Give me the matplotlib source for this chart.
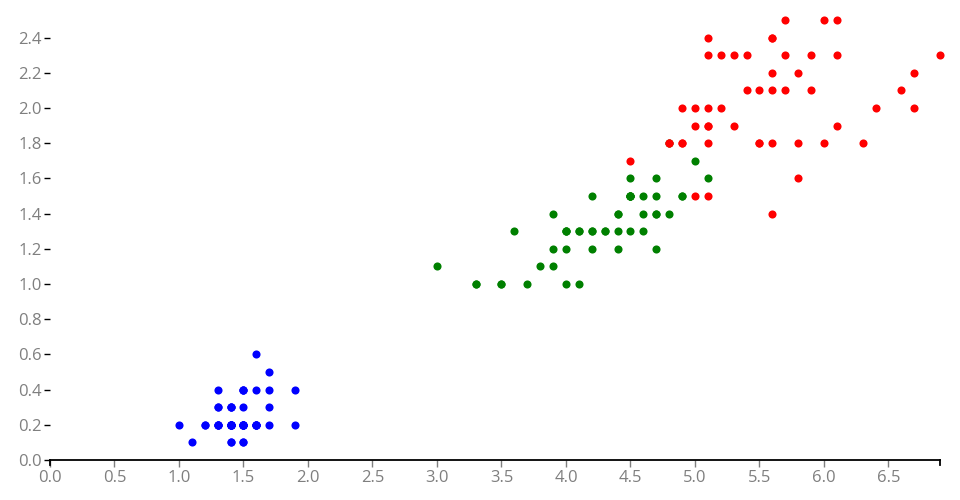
import matplotlib.pyplot as plt
import numpy as np

plt.rcParams["font.family"] = ["Open Sans", "DejaVu Sans"]

# iris petal length / petal width
setosa_len = [1.4, 1.4, 1.3, 1.5, 1.4, 1.7, 1.4, 1.5, 1.4, 1.5, 1.5, 1.6, 1.4, 1.1, 1.2, 1.5, 1.3,
              1.4, 1.7, 1.5, 1.7, 1.5, 1.0, 1.7, 1.9, 1.6, 1.6, 1.5, 1.4, 1.6, 1.6, 1.5, 1.5, 1.4,
              1.5, 1.2, 1.3, 1.4, 1.3, 1.5, 1.3, 1.3, 1.3, 1.6, 1.9, 1.4, 1.6, 1.4, 1.5, 1.4]
setosa_wid = [0.2, 0.2, 0.2, 0.2, 0.2, 0.4, 0.3, 0.2, 0.2, 0.1, 0.2, 0.2, 0.1, 0.1, 0.2, 0.4, 0.4,
              0.3, 0.3, 0.3, 0.2, 0.4, 0.2, 0.5, 0.2, 0.2, 0.4, 0.2, 0.2, 0.2, 0.2, 0.4, 0.1, 0.2,
              0.2, 0.2, 0.2, 0.1, 0.2, 0.2, 0.3, 0.3, 0.2, 0.6, 0.4, 0.3, 0.2, 0.2, 0.2, 0.2]

versicolor_len = [4.7, 4.5, 4.9, 4.0, 4.6, 4.5, 4.7, 3.3, 4.6, 3.9, 3.5, 4.2, 4.0, 4.7, 3.6, 4.4, 4.5,
                  4.1, 4.5, 3.9, 4.8, 4.0, 4.9, 4.7, 4.3, 4.4, 4.8, 5.0, 4.5, 3.5, 3.8, 3.7, 3.9, 5.1,
                  4.5, 4.5, 4.7, 4.4, 4.1, 4.0, 4.4, 4.6, 4.0, 3.3, 4.2, 4.2, 4.2, 4.3, 3.0, 4.1]
versicolor_wid = [1.4, 1.5, 1.5, 1.3, 1.5, 1.3, 1.6, 1.0, 1.3, 1.4, 1.0, 1.5, 1.0, 1.4, 1.3, 1.4, 1.5,
                  1.0, 1.5, 1.1, 1.8, 1.3, 1.5, 1.2, 1.3, 1.4, 1.4, 1.7, 1.5, 1.0, 1.1, 1.0, 1.2, 1.6,
                  1.5, 1.6, 1.5, 1.3, 1.3, 1.3, 1.2, 1.4, 1.2, 1.0, 1.3, 1.2, 1.3, 1.3, 1.1, 1.3]

virginica_len = [6.0, 5.1, 5.9, 5.6, 5.8, 6.6, 4.5, 6.3, 5.8, 6.1, 5.1, 5.3, 5.5, 5.0, 5.1, 5.3, 5.5,
                 6.7, 6.9, 5.0, 5.7, 4.9, 6.7, 4.9, 5.7, 6.0, 4.8, 4.9, 5.6, 5.8, 6.1, 6.4, 5.6, 5.1,
                 5.6, 6.1, 5.6, 5.5, 4.8, 5.4, 5.6, 5.1, 5.1, 5.9, 5.7, 5.2, 5.0, 5.2, 5.4, 5.1]
virginica_wid = [2.5, 1.9, 2.1, 1.8, 2.2, 2.1, 1.7, 1.8, 1.8, 2.5, 2.0, 1.9, 2.1, 2.0, 2.4, 2.3, 1.8,
                 2.2, 2.3, 1.5, 2.3, 2.0, 2.0, 1.8, 2.1, 1.8, 1.8, 1.8, 2.1, 1.6, 1.9, 2.0, 2.2, 1.5,
                 1.4, 2.3, 2.4, 1.8, 1.8, 2.1, 2.4, 2.3, 1.9, 2.3, 2.5, 2.3, 1.9, 2.0, 2.3, 1.8]

x_ticks = np.arange(0, 7.0, 0.5)
y_ticks = np.arange(0, 2.5, 0.2)

fig = plt.figure(figsize=(9.6, 5), dpi=100)
ax = fig.add_axes([50 / 960, 40 / 500, 890 / 960, 440 / 500])

for xs, ys, c in [(setosa_len, setosa_wid, "blue"),
                  (versicolor_len, versicolor_wid, "green"),
                  (virginica_len, virginica_wid, "red")]:
    ax.scatter(xs, ys, s=34, color=c, linewidths=0, zorder=3, clip_on=False)

ax.set_xlim(0, 6.9)
ax.set_ylim(0, 2.5)

for side in ["top", "right", "left"]:
    ax.spines[side].set_visible(False)
ax.spines["bottom"].set_color("black")
ax.spines["bottom"].set_linewidth(1.3)

ax.set_xticks(x_ticks)
ax.set_xticklabels([f"{v:.1f}" for v in x_ticks])
ax.set_yticks(y_ticks)
ax.set_yticklabels([f"{v:.1f}" for v in y_ticks])

ax.tick_params(axis="x", colors="#7f7f7f", labelsize=12, length=5, width=1, pad=2)
ax.tick_params(axis="y", colors="black", labelcolor="#7f7f7f", labelsize=12, length=4, width=1, pad=2)

# outer end ticks of the x axis line
ax.plot([0, 0], [0, -0.03], color="black", lw=1.3, clip_on=False, transform=ax.transData)
ax.plot([6.9, 6.9], [0, -0.03], color="black", lw=1.3, clip_on=False, transform=ax.transData)

fig.savefig("out.png", dpi=100)
